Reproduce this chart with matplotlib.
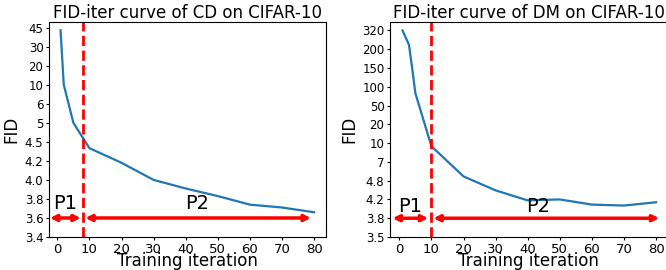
import numpy as np
import matplotlib
matplotlib.use("Agg")
import matplotlib.pyplot as plt

# CD on CIFAR-10
cd_iter = [1, 2, 5, 10, 20, 30, 40, 50, 60, 70, 80]
cd_fid = [43, 10.0, 5.0, 4.4, 4.18, 4.0, 3.91, 3.83, 3.74, 3.71, 3.66]
cd_ticks = [3.4, 3.6, 3.8, 4.0, 4.2, 4.5, 5, 6, 10, 20, 30, 45]
cd_labels = ["3.4", "3.6", "3.8", "4.0", "4.2", "4.5", "5", "6", "10", "20", "30", "45"]
cd_split = 8

# DM on CIFAR-10
dm_iter = [1, 3, 4, 5, 10, 20, 30, 40, 50, 60, 70, 80]
dm_fid = [320, 229, 150, 83, 9.5, 5.3, 4.49, 4.18, 4.2, 4.09, 4.07, 4.14]
dm_ticks = [3.5, 3.8, 4.2, 4.8, 7, 10, 20, 50, 100, 150, 200, 320]
dm_labels = ["3.5", "3.8", "4.2", "4.8", "7", "10", "20", "50", "100", "150", "200", "320"]
dm_split = 10


def make_scale(ticks):
    # evenly spaced tick values, piecewise linear in between
    vals = np.array(ticks, dtype=float)
    pos = np.arange(len(vals), dtype=float)
    lo = (vals[1] - vals[0]) / (pos[1] - pos[0])
    hi = (vals[-1] - vals[-2]) / (pos[-1] - pos[-2])

    def fwd(v):
        v = np.asarray(v, dtype=float)
        p = np.interp(v, vals, pos)
        p = np.where(v > vals[-1], pos[-1] + (v - vals[-1]) / hi, p)
        p = np.where(v < vals[0], pos[0] + (v - vals[0]) / lo, p)
        return p

    def inv(p):
        p = np.asarray(p, dtype=float)
        v = np.interp(p, pos, vals)
        v = np.where(p > pos[-1], vals[-1] + (p - pos[-1]) * hi, v)
        v = np.where(p < pos[0], vals[0] + (p - pos[0]) * lo, v)
        return v

    return fwd, inv


fig = plt.figure(figsize=(6.66, 2.7), dpi=100)
ax1 = fig.add_axes([49 / 666, 33 / 270, 277 / 666, 215 / 270])
ax2 = fig.add_axes([390 / 666, 33 / 270, 277 / 666, 215 / 270])

panels = [
    (ax1, cd_iter, cd_fid, cd_ticks, cd_labels, cd_split, "CD",
     (-2.6, 83.7), 11.3, (-2.3, 7.3), (8.7, 79.0), 2.4, 43.4, 0.46),
    (ax2, dm_iter, dm_fid, dm_ticks, dm_labels, dm_split, "DM",
     (-2.9, 83.4), 11.45, (-2.1, 9.0), (10.6, 81.0), 3.5, 43.3, 0.32),
]

for (ax, it, fid, ticks, labels, split, name,
     xlim, ytop, p1, p2, p1x, p2x, ptxt) in panels:
    fwd, inv = make_scale(ticks)
    ax.set_yscale("function", functions=(fwd, inv))
    ax.plot(it, fid, color="#1f77b4", lw=1.6)
    ax.axvline(split, color="red", ls="--", lw=2)

    ya = ticks[1]
    for (a, b) in [p1, p2]:
        ax.annotate("", xy=(a, ya), xytext=(b, ya),
                    arrowprops=dict(arrowstyle="<|-|>", color="red", lw=2.5,
                                    mutation_scale=9, shrinkA=0, shrinkB=0))
    yt = float(inv(1 + ptxt))
    ax.text(p1x, yt, "P1", ha="center", va="baseline", fontsize=14)
    ax.text(p2x, yt, "P2", ha="center", va="baseline", fontsize=14)

    ax.set_xlim(*xlim)
    ax.set_ylim(ticks[0], float(inv(ytop)))
    ax.set_yticks(ticks, labels=labels)
    ax.set_xticks(range(0, 81, 10))
    ax.tick_params(axis="both", length=2.5, pad=1.5)
    ax.tick_params(axis="y", labelsize=8.5)
    ax.tick_params(axis="x", labelsize=9.5)
    ax.set_xlabel("Training iteration", fontsize=12)
    ax.xaxis.set_label_coords(0.5, -0.07)
    ax.set_ylabel("FID", fontsize=12, labelpad=3)
    ax.set_title("FID-iter curve of %s on CIFAR-10" % name, fontsize=12, pad=3)

fig.savefig("out.png", dpi=100)
